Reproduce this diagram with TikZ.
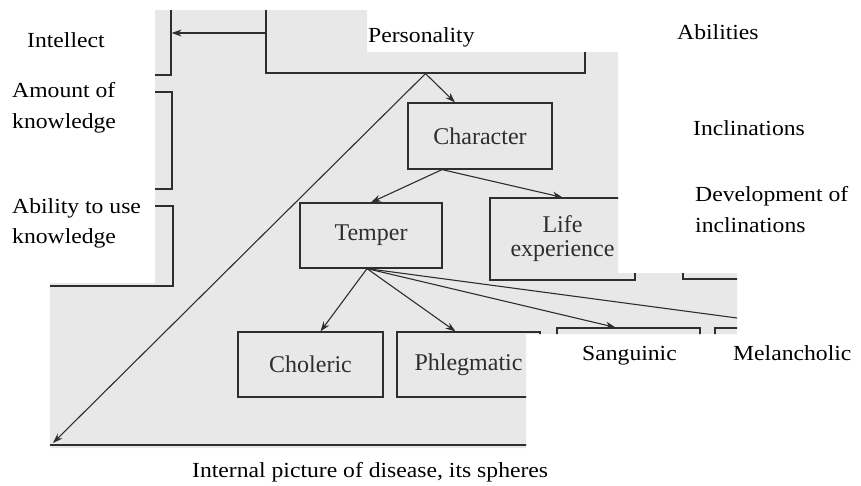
\documentclass[tikz,border=0pt]{standalone}
\usepackage{fontspec}
\setmainfont{Liberation Serif}
\newfontfamily\labelfont[FakeStretch=1.1]{Liberation Serif}
\usetikzlibrary{arrows.meta,calc}
\definecolor{scanbg}{gray}{0.91}
\definecolor{ink}{gray}{0.18}

\begin{document}
\begin{tikzpicture}[x=1pt,y=-1pt,
  box/.style={draw=ink,line width=1.2pt,inner sep=0pt,text=ink,font=\fontsize{24}{27}\selectfont,align=center},
  arr/.style={draw=ink,line width=1.1pt,-{Stealth[length=10pt,width=7pt]}},
  lbl/.style={anchor=base west,inner sep=0pt,font=\labelfont\fontsize{21.5}{31}\selectfont,align=left}]
\useasboundingbox (0,0) rectangle (861,485);
% the scanned part of the page
\begin{scope}
\clip (155,10) -- (367,10) -- (367,52) -- (618,52) -- (618,273) -- (737,273) -- (737,334)
  -- (526,334) -- (526,448) -- (50,448) -- (50,283) -- (155,283) -- cycle;
\fill[scanbg] (0,0) rectangle (861,485);
\node[box,minimum width=852pt,minimum height=465pt] (spheres) at (474,212.5) {};
\node[box,minimum width=319pt,minimum height=80pt] (personality) at (425.5,33) {};
\node[box,minimum width=81pt,minimum height=84pt] (intellect) at (130.5,33) {};
\node[box,minimum width=72pt,minimum height=97pt] (amount) at (136,140.5) {};
\node[box,minimum width=153pt,minimum height=80pt] (ability) at (96.5,246) {};
\node[box,minimum width=144pt,minimum height=66pt] (character) at (480,136) {Character};
\node[box,minimum width=142pt,minimum height=65pt] (temper) at (371,235.5) {Temper};
\node[box,minimum width=145pt,minimum height=82pt] (life) at (562.5,239) {Life\\[-3pt]experience};
\node[box,minimum width=117pt,minimum height=79pt] (development) at (741.5,239.5) {};
\node[box,minimum width=145pt,minimum height=65pt] (choleric) at (310.5,364.5) {Choleric};
\node[box,minimum width=143pt,minimum height=65pt] (phlegmatic) at (468.5,364.5) {Phlegmatic};
\node[box,minimum width=143pt,minimum height=67pt] (sanguinic) at (628.5,361.5) {};
\node[box,minimum width=145pt,minimum height=67pt] (melancholic) at (787.5,361.5) {};
\coordinate (diseasecorner) at (53,443);
\coordinate (characterfoot) at ([xshift=-38pt]character.south);
\coordinate (temperfoot) at ([xshift=-4pt]temper.south);
\draw[arr] (personality.west) -- (intellect.east);
\draw[arr] (personality.south) -- ([xshift=-25pt]character.north);
\draw[arr] (personality.south) -- (diseasecorner);
\draw[arr] (characterfoot) -- (temper.north);
\draw[arr] (characterfoot) -- (life.north);
\draw[arr] (temperfoot) -- ([xshift=10pt]choleric.north);
\draw[arr] (temperfoot) -- ([xshift=-13pt]phlegmatic.north);
\draw[arr] (temperfoot) -- ([xshift=-13pt]sanguinic.north);
\draw[arr] (temperfoot) -- ([xshift=20pt]melancholic.north);
\end{scope}
% labels typed over the scan
\node[lbl] (intellectlabel) at (27,47) {Intellect};
\node[lbl] (personalitylabel) at (368,42) {Personality};
\node[lbl] (abilitieslabel) at (677,39) {Abilities};
\node[lbl] (amountlabel) at (12,128) {Amount of\\knowledge};
\node[lbl] (inclinationslabel) at (693,135) {Inclinations};
\node[lbl,font=\labelfont\fontsize{21.5}{30}\selectfont] (abilitylabel) at (12,243) {Ability to use\\knowledge};
\node[lbl] (developmentlabel) at (695,232) {Development of\\inclinations};
\node[lbl] (sanguiniclabel) at (582,360) {Sanguinic};
\node[lbl] (melancholiclabel) at (733,360) {Melancholic};
\node[lbl] (sphereslabel) at (192,477) {Internal picture of disease, its spheres};
\end{tikzpicture}
\end{document}
